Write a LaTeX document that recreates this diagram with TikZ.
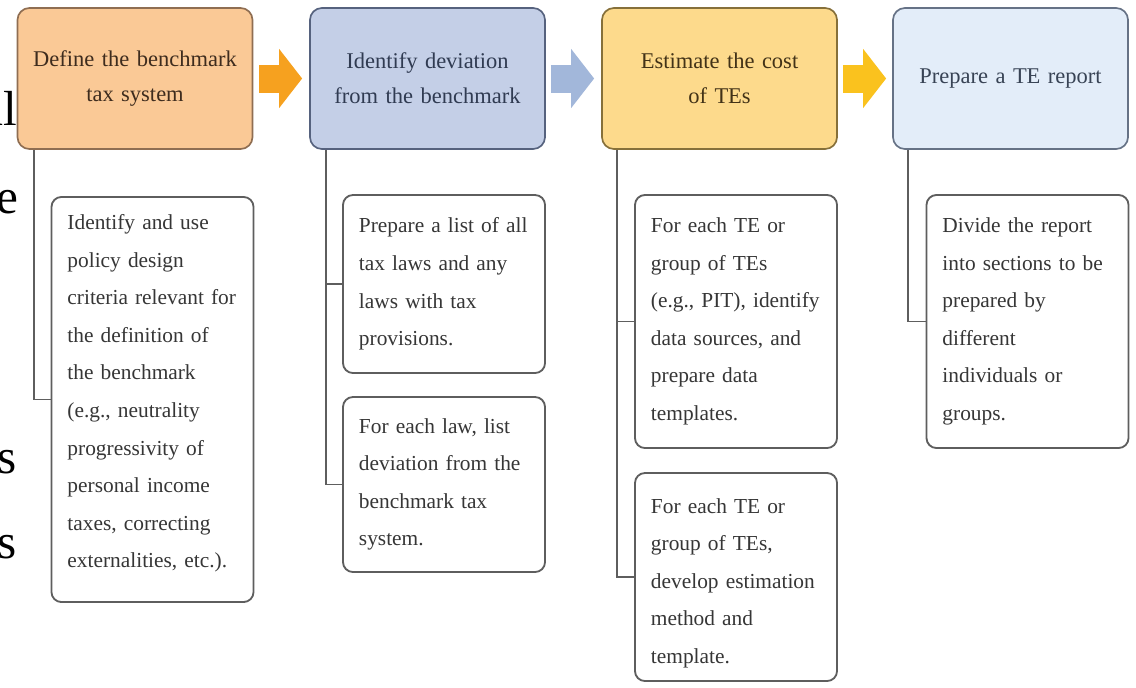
\documentclass[tikz,border=0pt]{standalone}
\usepackage{fontspec}
\setmainfont{Liberation Serif}
\usetikzlibrary{arrows.meta}

\definecolor{headA}{HTML}{FAC996}
\definecolor{headB}{HTML}{C4CFE7}
\definecolor{headC}{HTML}{FDDA8C}
\definecolor{headD}{HTML}{E3EDF9}
\definecolor{rimA}{HTML}{8F6E52}
\definecolor{rimB}{HTML}{56627E}
\definecolor{rimC}{HTML}{86703A}
\definecolor{rimD}{HTML}{667286}
\definecolor{inkA}{HTML}{3E2C1E}
\definecolor{inkB}{HTML}{303B52}
\definecolor{inkC}{HTML}{423217}
\definecolor{inkD}{HTML}{384355}
\definecolor{flowA}{HTML}{F6A11F}
\definecolor{flowB}{HTML}{A2B7DA}
\definecolor{flowC}{HTML}{FAC21E}
\definecolor{subrim}{HTML}{5E5E5E}
\definecolor{subink}{HTML}{363636}

\tikzset{
	head/.style={draw, line width=1.2pt, rounded corners=0.3cm, minimum width=5.875cm, minimum height=3.525cm,
		text width=5.4cm, align=center, font=\fontsize{16}{25}\selectfont},
	sub/.style={draw=subrim, line width=1.3pt, rounded corners=0.25cm, text width=4.25cm, inner xsep=0.4cm,
		align=left, text=subink, font=\fontsize{15.2}{26.7}\selectfont},
	link/.style={draw=subrim, line width=1.3pt},
	flow/.style={line width=0.7cm, -{Triangle[length=0.575cm, width=1.45cm]}},
	slide/.style={anchor=base east, inner sep=0pt, font=\fontsize{35}{35}\selectfont}
}

\begin{document}
\begin{tikzpicture}[x=0.025cm, y=-0.025cm]
	\fill[white] (0,0) rectangle (1136,687);
	\useasboundingbox (0,0) rectangle (1136,687);
	\node[slide] (slideA) at (17,125) {al};
	\node[slide] (slideB) at (19,213) {e};
	\node[slide] (slideC) at (17,473) {s};
	\node[slide] (slideD) at (17,558) {s};

	\node[head, fill=headA, draw=rimA, text=inkA] (h1) at (135,78.5) {Define the benchmark\\tax system};
	\node[head, fill=headB, draw=rimB, text=inkB] (h2) at (427.5,78.5) {Identify deviation\\from the benchmark};
	\node[head, fill=headC, draw=rimC, text=inkC] (h3) at (719.5,78.5) {Estimate the cost\\of TEs};
	\node[head, fill=headD, draw=rimD, text=inkD] (h4) at (1010.5,78.5) {Prepare a TE report};

	\draw[flow, flowA, shorten <=0.15cm, shorten >=0.175cm] (h1) -- (h2);
	\draw[flow, flowB, shorten <=0.125cm, shorten >=0.175cm] (h2) -- (h3);
	\draw[flow, flowC, shorten <=0.125cm, shorten >=0.15cm] (h3) -- (h4);

	\node[sub, minimum height=10.125cm] (s1) at (152.5,399.5) {Identify and use\\policy design\\criteria relevant for\\the definition of\\the benchmark\\(e.g., neutrality\\progressivity of\\personal income\\taxes, correcting\\externalities, etc.).\par\vspace{0.3cm}};
	\node[sub, minimum height=4.45cm] (s2a) at (444,284) {Prepare a list of all\\tax laws and any\\laws with tax\\provisions.};
	\node[sub, minimum height=4.375cm] (s2b) at (444,484.5) {For each law, list\\deviation from the\\benchmark tax\\system.};
	\node[sub, minimum height=6.325cm] (s3a) at (736,321.5) {For each TE or\\group of TEs\\(e.g., PIT), identify\\data sources, and\\prepare data\\templates.};
	\node[sub, minimum height=5.2cm] (s3b) at (736,577) {For each TE or\\group of TEs,\\develop estimation\\method and\\template.\par\vspace{-0.3cm}};
	\node[sub, minimum height=6.325cm] (s4) at (1027.5,321.5) {Divide the report\\into sections to be\\prepared by\\different\\individuals or\\groups.};

	\draw[link] ([xshift=0.425cm]h1.south west) |- (s1.west);
	\draw[link] ([xshift=0.425cm]h2.south west) |- (s2a.west);
	\draw[link] ([xshift=0.425cm]h2.south west) |- (s2b.west);
	\draw[link] ([xshift=0.4cm]h3.south west) |- (s3a.west);
	\draw[link] ([xshift=0.4cm]h3.south west) |- (s3b.west);
	\draw[link] ([xshift=0.4cm]h4.south west) |- (s4.west);
\end{tikzpicture}
\end{document}
